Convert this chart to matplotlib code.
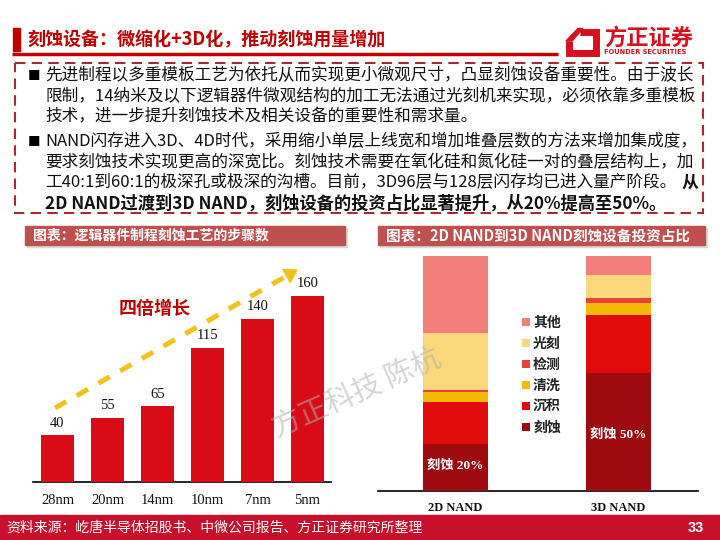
import matplotlib
matplotlib.use('Agg')
import matplotlib.pyplot as plt
from matplotlib.patches import Rectangle, Patch, Polygon
import numpy as np

plt.rcParams['font.family'] = ['Noto Sans CJK SC', 'DejaVu Sans']

# ---------------- data ----------------
nodes = ['28nm', '20nm', '14nm', '10nm', '7nm', '5nm']
steps = [40, 55, 65, 115, 140, 160]

nand_types = ['2D NAND', '3D NAND']
seg_names = ['刻蚀', '沉积', '清洗', '检测', '光刻', '其他']
share_2d = [20, 18, 4, 1, 24, 33]
share_3d = [50, 25, 5, 2, 10, 8]
seg_colors = ['#9E0B0F', '#E00B0B', '#F5B90A', '#E8413C', '#F9D77A', '#F27F7C']

title = '刻蚀设备：微缩化+3D化，推动刻蚀用量增加'
para1 = ['先进制程以多重模板工艺为依托从而实现更小微观尺寸，凸显刻蚀设备重要性。由于波长',
         '限制，14纳米及以下逻辑器件微观结构的加工无法通过光刻机来实现，必须依靠多重模板',
         '技术，进一步提升刻蚀技术及相关设备的重要性和需求量。']
para2 = ['NAND闪存进入3D、4D时代，采用缩小单层上线宽和增加堆叠层数的方法来增加集成度，',
         '要求刻蚀技术实现更高的深宽比。刻蚀技术需要在氧化硅和氮化硅一对的叠层结构上，加',
         '工40:1到60:1的极深孔或极深的沟槽。目前，3D96层与128层闪存均已进入量产阶段。']
para2_bold_tail = '从'
para2_bold_line = '2D NAND过渡到3D NAND，刻蚀设备的投资占比显著提升，从20%提高至50%。'
left_header = '图表：逻辑器件制程刻蚀工艺的步骤数'
right_header = '图表：2D NAND到3D NAND刻蚀设备投资占比'
footer = '资料来源：屹唐半导体招股书、中微公司报告、方正证券研究所整理'
page_no = '33'
growth_label = '四倍增长'
watermark = '方正科技 陈杭'

W, H = 720, 540
fig = plt.figure(figsize=(7.2, 5.4), dpi=100)
fig.patch.set_facecolor('white')


def fig_rect(x0, y0, x1, y1):
    return [x0 / W, 1 - y1 / H, (x1 - x0) / W, (y1 - y0) / H]


# overlay in pixel coordinates
ov = fig.add_axes([0, 0, 1, 1], zorder=0)
ov.set_xlim(0, W)
ov.set_ylim(H, 0)
ov.axis('off')

# title
ov.add_patch(Rectangle((13, 28), 7, 23, color='#C00000'))
ov.text(27, 39.5, title, color='#C00000', fontsize=13, fontweight='bold', va='center', ha='left')
ov.plot([12, 558], [54, 54], color='#C00000', lw=2.5, solid_capstyle='butt')

# logo
ov.plot([580, 596, 596, 569, 569], [31.5, 31.5, 52.5, 52.5, 41], color='#D7101E', lw=5,
        solid_joinstyle='miter', solid_capstyle='butt')
ov.add_patch(Polygon([[566, 41], [578, 28.5], [583, 28.5], [572, 41]], closed=True, color='#D7101E'))
ov.text(604, 38, '方正证券', color='#D7101E', fontsize=16, fontweight='bold', va='center', ha='left')
ov.text(604, 52.5, 'FOUNDER SECURITIES', color='#D7101E', fontsize=4.8, fontweight='bold',
        va='center', ha='left', family=['DejaVu Sans'])

# dashed text box
ov.add_patch(Rectangle((15, 63), 688, 150, fill=False, edgecolor='#A32A2F', lw=1.5,
                       linestyle=(0, (5, 3))))

body_fs = 12
x_text = 45
ys1 = [76, 96.5, 117]
ys2 = [142, 162.5, 183, 203.5]
ov.text(28, ys1[0], '■', fontsize=9, va='center', ha='left', color='black')
ov.text(28, ys2[0], '■', fontsize=9, va='center', ha='left', color='black')
for ln, y in zip(para1, ys1):
    ov.text(x_text, y, ln, fontsize=body_fs, va='center', ha='left', color='#111111')
for ln, y in zip(para2, ys2[:3]):
    ov.text(x_text, y, ln, fontsize=body_fs, va='center', ha='left', color='#111111')
ov.text(698, ys2[2], para2_bold_tail, fontsize=body_fs, va='center', ha='right',
        fontweight='bold', color='#111111')
ov.text(x_text, ys2[3], para2_bold_line, fontsize=body_fs + 0.4, va='center', ha='left',
        fontweight='bold', color='#111111')

# section headers
for (x0, x1, txt, fs) in [(25, 345, left_header, 10), (378, 705, right_header, 10.5)]:
    ov.add_patch(Rectangle((x0 + 2, 228), x1 - x0, 19, color='#D9D9D9'))
    ov.add_patch(Rectangle((x0, 226), x1 - x0, 19, color='#C0504D'))
    ov.text(x0 + 8, 235.5, txt, color='white', fontsize=fs, fontweight='bold', va='center', ha='left')

# footer
ov.add_patch(Rectangle((0, 515), W, 25, color='#C8102C'))
ov.text(6, 528, footer, color='white', fontsize=10, va='center', ha='left')
ov.text(704, 528, page_no, color='white', fontsize=10.5, fontweight='bold', va='center',
        ha='right', family=['Liberation Sans'])

# ---------------- left chart ----------------
serif = ['Liberation Serif', 'Noto Sans CJK SC']
axL = fig.add_axes(fig_rect(33, 265, 331, 482), zorder=2)
axL.patch.set_alpha(0)
xL = np.arange(len(nodes))
bars = axL.bar(xL, steps, width=0.66, color='#D90B16', zorder=3)
for b, v in zip(bars, steps):
    axL.annotate(str(v), (b.get_x() + b.get_width() / 2, v), xytext=(0, 4),
                 textcoords='offset points', ha='center', va='bottom', fontsize=10.5,
                 family=serif, color='#111111')
axL.set_xlim(-0.49, 5.47)
axL.set_ylim(0, 186.3)
axL.set_xticks(xL)
axL.set_xticklabels(nodes, family=serif, fontsize=10.5, color='#111111')
axL.tick_params(axis='x', length=0, pad=9)
axL.set_yticks([])
for s in ['top', 'right', 'left']:
    axL.spines[s].set_visible(False)
axL.spines['bottom'].set_linewidth(1.2)
axL.text(1.95, 149, growth_label, color='#C00000', fontsize=13, fontweight='bold',
         ha='center', va='center')

# dashed growth arrow: endpoints in left-chart data coords, head built in pixel space
x_a0, y_a0 = -0.05, 63.5
x_a1, y_a1 = 4.79, 182.0
p0 = axL.transData.transform((x_a0, y_a0))
p1 = axL.transData.transform((x_a1, y_a1))
p0 = np.array([p0[0], H - p0[1]])
p1 = np.array([p1[0], H - p1[1]])
d = (p1 - p0) / np.linalg.norm(p1 - p0)
nrm = np.array([-d[1], d[0]])
L_head, w_head = 12, 7.5
base = p1 - L_head * d
ov.plot([p0[0], base[0] + 1 * d[0]], [p0[1], base[1] + 1 * d[1]], color='#F2C21B', lw=3.6,
        linestyle=(0, (2.6, 2.4)), solid_capstyle='butt', dash_capstyle='butt', zorder=4)
ov.add_patch(Polygon([p1, base + w_head * nrm, base - w_head * nrm], closed=True,
                     color='#F2C21B', zorder=4))

# ---------------- right chart ----------------
axR = fig.add_axes(fig_rect(378, 256, 698, 490.7), zorder=2)
axR.patch.set_alpha(0)
xR = np.arange(len(nand_types))
shares = np.array([share_2d, share_3d])
bottom = np.zeros(len(nand_types))
handles = []
for i, name in enumerate(seg_names):
    vals = shares[:, i]
    axR.bar(xR, vals, bottom=bottom, width=0.4, color=seg_colors[i], zorder=3)
    bottom += vals
    handles.append(Patch(facecolor=seg_colors[i], label=name))
axR.set_xlim(-0.475, 1.488)
axR.set_ylim(0, 100)
axR.set_xticks(xR)
axR.set_xticklabels(nand_types, family=serif, fontsize=9, fontweight='bold', color='#111111')
axR.tick_params(axis='x', length=0, pad=8)
axR.set_yticks([])
for s in ['top', 'right', 'left']:
    axR.spines[s].set_visible(False)
axR.spines['bottom'].set_linewidth(1.2)

etch_label_y = [10.5, 24]
for xi, sh, ly in zip(xR, [share_2d, share_3d], etch_label_y):
    axR.text(xi, ly, f'{seg_names[0]} {sh[0]}%', color='white', fontsize=9.5,
             fontweight='bold', ha='center', va='center', family=serif, zorder=5)

leg = axR.legend(handles=handles[::-1], loc='upper left',
                 bbox_to_anchor=(515 / W, 1 - 309 / H), bbox_transform=fig.transFigure,
                 frameon=False, handlelength=0.55, handleheight=0.55, handletextpad=0.25,
                 labelspacing=0.5, borderpad=0, prop={'size': 10, 'weight': 'bold'})
for t in leg.get_texts():
    t.set_color('#222222')

# watermark
fig.text(357 / W, 1 - 393 / H, watermark, rotation=23.6, fontsize=21, color='#B0B0B0',
         alpha=0.55, ha='center', va='center', zorder=10, rotation_mode='anchor')

fig.savefig('out.png', dpi=100)
